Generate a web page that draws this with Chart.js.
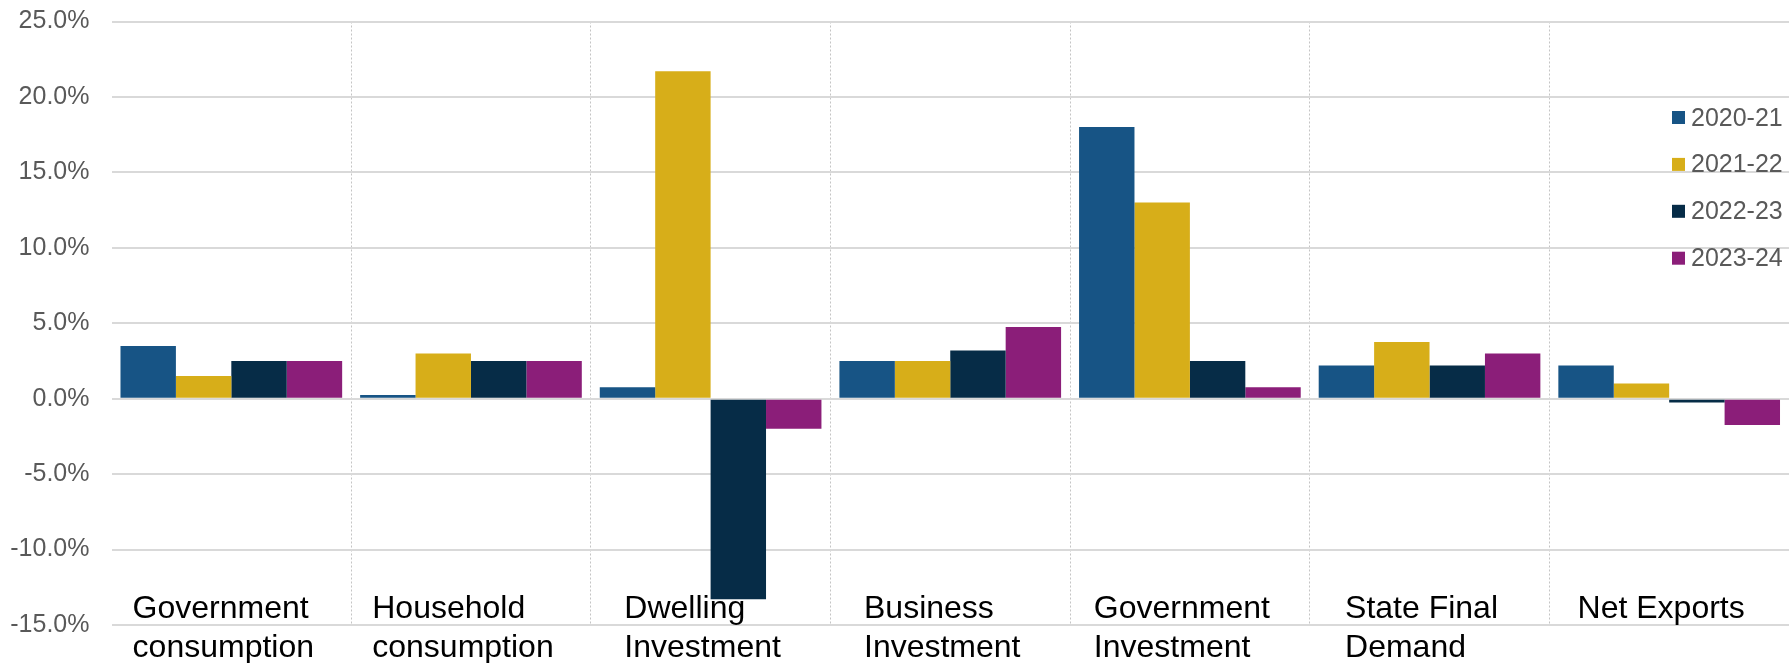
<!DOCTYPE html>
<html>
<head>
<meta charset="utf-8">
<script src="https://cdn.jsdelivr.net/npm/chart.js@4.4.1/dist/chart.umd.min.js"></script>
<style>
  html, body { margin: 0; padding: 0; background: #fff; }
  #wrap { width: 1789px; height: 663px; position: relative; }
</style>
</head>
<body>
<div id="wrap"><canvas id="growthChart"></canvas></div>
<script>
const categories = [
  ["Government", "consumption"],
  ["Household", "consumption"],
  ["Dwelling", "Investment"],
  ["Business", "Investment"],
  ["Government", "Investment"],
  ["State Final", "Demand"],
  ["Net Exports"]
];
const years = ["2020-21", "2021-22", "2022-23", "2023-24"];
const values2020 = [3.5, 0.25, 0.75, 2.5, 18.0, 2.2, 2.2];
const values2021 = [1.5, 3.0, 21.7, 2.5, 13.0, 3.75, 1.0];
const values2022 = [2.5, 2.5, -13.3, 3.2, 2.5, 2.2, -0.25];
const values2023 = [2.5, 2.5, -2.0, 4.75, 0.75, 3.0, -1.75];
const yTicks = [-15, -10, -5, 0, 5, 10, 15, 20, 25];

const colors = ["#175485", "#d7ae19", "#062c47", "#8b1e79"];
const font = "'Liberation Sans', Arial, sans-serif";

// category labels drawn left-aligned as a block, roughly centred on each group
const categoryLabels = {
  id: "categoryLabels",
  afterDraw(chart) {
    const ctx = chart.ctx;
    const x = chart.scales.x;
    const base = chart.chartArea.bottom - 7;
    ctx.save();
    ctx.font = "32px " + font;
    ctx.fillStyle = "#000";
    ctx.textAlign = "left";
    ctx.textBaseline = "alphabetic";
    categories.forEach((lines, i) => {
      const w = Math.max(...lines.map(l => ctx.measureText(l).width));
      const cx = x.getPixelForValue(i) - 8;
      lines.forEach((l, j) => ctx.fillText(l, cx - w / 2, base + j * 39));
    });
    ctx.restore();
  }
};

// legend inside the plot on the right
const sideLegend = {
  id: "sideLegend",
  afterDraw(chart) {
    const ctx = chart.ctx;
    const left = chart.chartArea.right - 117;
    const top = 111;
    ctx.save();
    ctx.font = "25px " + font;
    ctx.textBaseline = "alphabetic";
    ctx.textAlign = "left";
    years.forEach((y, i) => {
      const yy = top + i * 46.9;
      ctx.fillStyle = colors[i];
      ctx.fillRect(left, yy, 13, 13);
      ctx.fillStyle = "#595959";
      ctx.fillText(y, left + 19, yy + 14.5);
    });
    ctx.restore();
  }
};

const seriesValues = [values2020, values2021, values2022, values2023];

new Chart(document.getElementById("growthChart"), {
  type: "bar",
  data: {
    labels: categories,
    datasets: years.map((y, i) => ({
      label: y,
      data: seriesValues[i],
      backgroundColor: colors[i],
      borderWidth: 0,
      categoryPercentage: 0.925,
      barPercentage: 1.0
    }))
  },
  options: {
    responsive: true,
    maintainAspectRatio: false,
    animation: false,
    layout: { padding: { top: 21.5, bottom: 38, left: 0, right: 0 } },
    plugins: {
      legend: { display: false },
      tooltip: { enabled: false }
    },
    scales: {
      x: {
        ticks: { display: false },
        grid: {
          offset: true,
          drawTicks: false,
          lineWidth: 1,
          color: ctx => (ctx.index === 0 || ctx.index === categories.length) ? "rgba(0,0,0,0)" : "#c4c4c4"
        },
        border: { display: false, dash: [2, 2] }
      },
      y: {
        min: yTicks[0],
        max: yTicks[yTicks.length - 1],
        afterBuildTicks: scale => { scale.ticks = yTicks.map(v => ({ value: v })); },
        afterFit: scale => { scale.width = 111.5; },
        ticks: {
          padding: 0,
          color: "#595959",
          font: { family: font, size: 25 },
          callback: v => v.toFixed(1) + "%"
        },
        grid: {
          color: "#d9d9d9",
          lineWidth: 2,
          drawTicks: true,
          tickLength: 22,
          tickColor: "rgba(0,0,0,0)"
        },
        border: { display: false }
      }
    }
  },
  plugins: [categoryLabels, sideLegend]
});
</script>
</body>
</html>
